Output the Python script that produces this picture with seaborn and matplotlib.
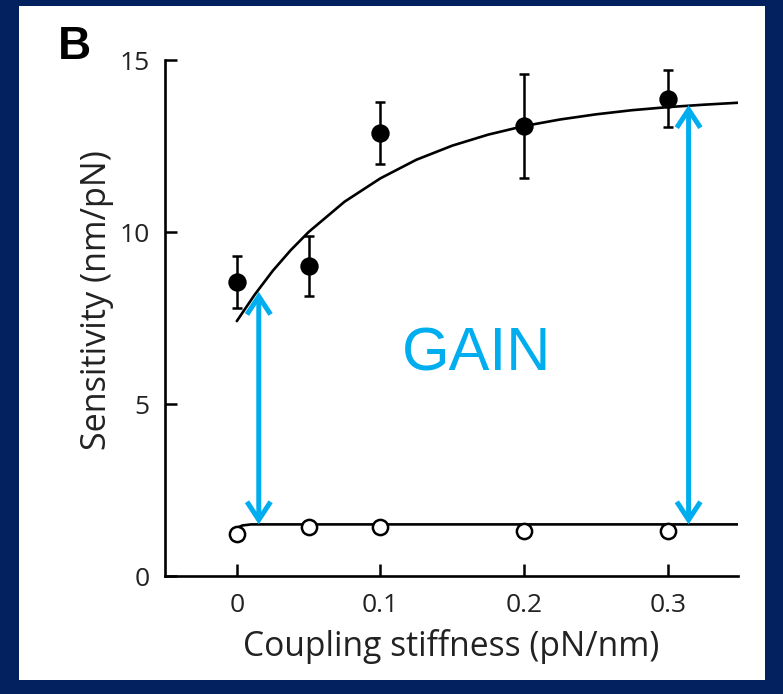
import matplotlib
matplotlib.use("Agg")
import matplotlib.pyplot as plt
import numpy as np
import pandas as pd
import seaborn as sns
from matplotlib.patches import Rectangle, FancyArrowPatch

# Coupling stiffness (pN/nm) at which sensitivity was measured
stiffness = [0.0, 0.05, 0.1, 0.2, 0.3]
# Sensitivity (nm/pN) of the coupled bundle, with its error bars
sens_coupled = [8.55, 9.00, 12.88, 13.08, 13.87]
sens_coupled_err = [0.75, 0.87, 0.90, 1.50, 0.83]
# Sensitivity of the passive bundle
sens_passive = [1.22, 1.42, 1.42, 1.31, 1.31]

# Fitted curve through the coupled-bundle data
fit_x = [0.0, 0.0125, 0.025, 0.0375, 0.05, 0.075, 0.1, 0.125, 0.15, 0.175,
         0.2, 0.225, 0.25, 0.275, 0.3, 0.325, 0.35]
fit_coupled = [7.41, 8.18, 8.87, 9.47, 10.00, 10.88, 11.56, 12.10, 12.51, 12.83,
               13.08, 13.27, 13.42, 13.54, 13.63, 13.70, 13.76]
# Fitted curve through the passive-bundle data
fit_passive_x = [0.0, 0.004, 0.01, 0.35]
fit_passive = [1.40, 1.47, 1.50, 1.50]

# Gain arrows: stiffness, lower end, upper end
gain_x = [0.0153, 0.3146]
gain_low = [1.50, 1.50]
gain_high = [8.26, 13.69]

x_ticks = [0, 0.1, 0.2, 0.3]
x_tick_labels = ["0", "0.1", "0.2", "0.3"]
y_ticks = [0, 5, 10, 15]
y_tick_labels = ["0", "5", "10", "15"]

NAVY = "#03215f"
CYAN = "#00aeef"

sns.set_theme(style="ticks")
plt.rcParams["font.family"] = ["Open Sans", "DejaVu Sans"]

W, H = 783, 694
fig = plt.figure(figsize=(W / 100, H / 100), dpi=100)
fig.patch.set_facecolor(NAVY)
fig.add_artist(Rectangle((19 / W, 1 - 680 / H), (765 - 19) / W, (680 - 6) / H,
                         transform=fig.transFigure, facecolor="white",
                         edgecolor="none", zorder=0))

ax = fig.add_axes([165 / W, 1 - 576 / H, (738 - 165) / W, (576 - 60) / H])
ax.set_facecolor("none")

coupled = pd.DataFrame({"k": stiffness, "s": sens_coupled, "err": sens_coupled_err})
passive = pd.DataFrame({"k": stiffness, "s": sens_passive})
fit_c = pd.DataFrame({"k": fit_x, "s": fit_coupled})
fit_p = pd.DataFrame({"k": fit_passive_x, "s": fit_passive})

sns.lineplot(data=fit_c, x="k", y="s", ax=ax, color="black", lw=1.9,
             sort=False, estimator=None, zorder=2)
sns.lineplot(data=fit_p, x="k", y="s", ax=ax, color="black", lw=1.9,
             sort=False, estimator=None, zorder=2)

ax.errorbar(coupled["k"], coupled["s"], yerr=coupled["err"], fmt="none",
            ecolor="black", elinewidth=1.8, capsize=3.6, capthick=1.8, zorder=3)
sns.scatterplot(data=coupled, x="k", y="s", ax=ax, color="black", s=175,
                edgecolor="black", linewidth=0, zorder=4)
sns.scatterplot(data=passive, x="k", y="s", ax=ax, color="white", s=120,
                edgecolor="black", linewidth=1.8, zorder=4)

# Double-headed gain arrows
for gx, lo, hi in zip(gain_x, gain_low, gain_high):
    arr = FancyArrowPatch((gx, lo), (gx, hi),
                          arrowstyle="<->,head_length=13,head_width=8.5",
                          mutation_scale=1, color=CYAN, lw=3.6,
                          shrinkA=0, shrinkB=0, zorder=5,
                          capstyle="butt", joinstyle="miter")
    ax.add_patch(arr)

ax.text(0.167, 6.42, "GAIN", color=CYAN, fontsize=44, ha="center", va="center",
        family=["Liberation Sans", "DejaVu Sans"])

ax.set_xlim(-0.05, 0.349)
ax.set_ylim(0, 15)
ax.set_xticks(x_ticks, x_tick_labels)
ax.set_yticks(y_ticks, y_tick_labels)
ax.tick_params(direction="in", length=8.6, width=1.8, labelsize=19,
               colors="black", labelcolor="#222222")
ax.tick_params(axis="y", pad=11)
ax.tick_params(axis="x", pad=12)
for side in ("top", "right"):
    ax.spines[side].set_visible(False)
for side in ("left", "bottom"):
    ax.spines[side].set_linewidth(1.9)
    ax.spines[side].set_color("black")

ax.set_xlabel("Coupling stiffness (pN/nm)", fontsize=24.2, color="#222222",
              va="center")
ax.xaxis.set_label_coords(0.5, (576 - 647) / 516)
ax.set_ylabel("Sensitivity (nm/pN)", fontsize=24.6, color="#222222", va="center")
ax.yaxis.set_label_coords((97 - 165) / 573, (576 - 300) / 516)

fig.text(74 / W, 1 - 47 / H, "B", fontsize=33, fontweight="bold", color="black",
         ha="center", va="center", family=["Liberation Sans", "DejaVu Sans"])

fig.savefig("out.png", dpi=100, facecolor=NAVY)
